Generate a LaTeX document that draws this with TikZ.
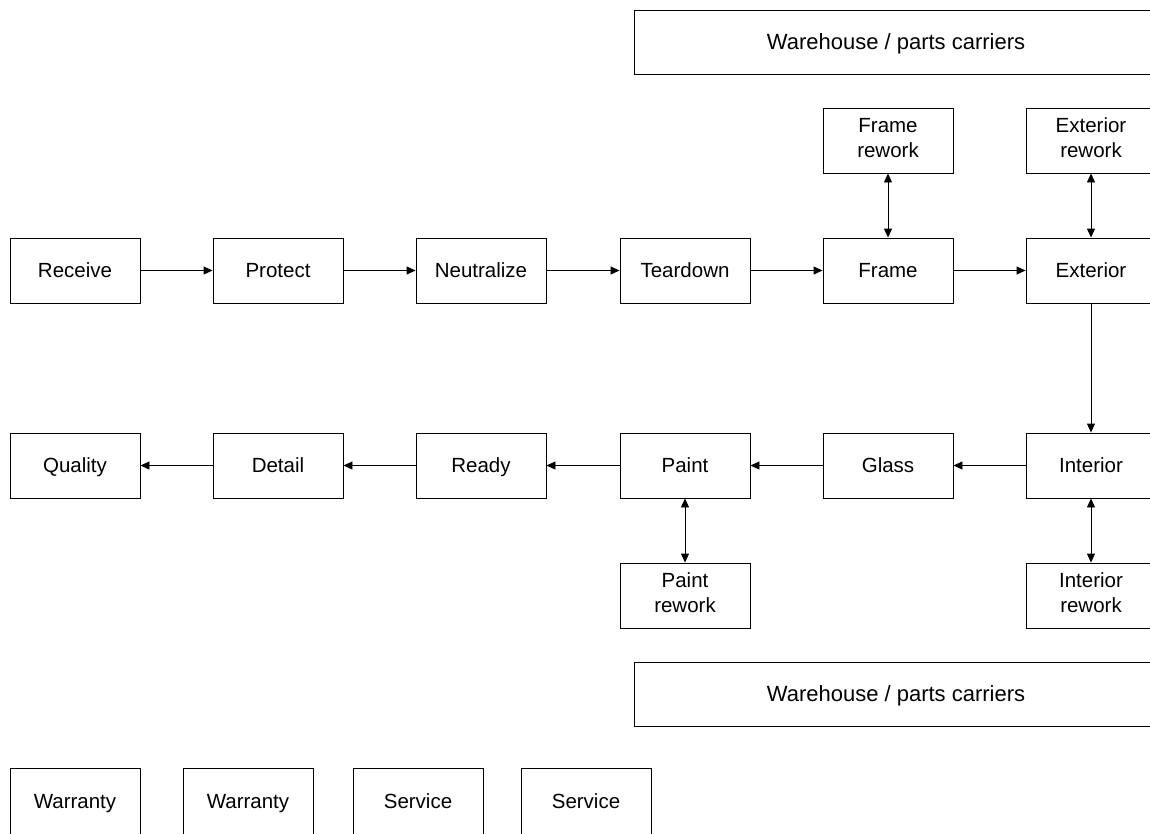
\documentclass[tikz,border=0pt]{standalone}
\usepackage{fontspec}
\setmainfont{Liberation Sans}
\usetikzlibrary{arrows.meta}
\newcommand\boxstrut{\rule[-5pt]{0pt}{24pt}}
\begin{document}
\begin{tikzpicture}[x=1pt,y=-1pt,
  box/.style={draw,line width=0.9pt,minimum width=130pt,minimum height=65pt,inner sep=0pt,align=center,
    font=\fontsize{20.5}{25}\selectfont,execute at begin node=\boxstrut,execute at end node=\boxstrut},
  wide/.style={box,minimum width=524pt,minimum height=64pt,font=\fontsize{22}{26}\selectfont},
  conn/.style={line width=0.9pt,-{Triangle[length=9pt,width=8pt]}},
  bi/.style={line width=0.9pt,{Triangle[length=9pt,width=8pt]}-{Triangle[length=9pt,width=8pt]}}]
\useasboundingbox (0,0) rectangle (1150,833);
\clip (0,0) rectangle (1150,833);
\node[box] (receive) at (75,270.5) {Receive};
\node[box] (protect) at (278,270.5) {Protect};
\node[box] (neutralize) at (481,270.5) {Neutralize};
\node[box] (teardown) at (685,270.5) {Teardown};
\node[box] (frame) at (888,270.5) {Frame};
\node[box] (exterior) at (1091,270.5) {Exterior};
\node[box] (framerw) at (888,140.5) {Frame\\rework};
\node[box] (exteriorrw) at (1091,140.5) {Exterior\\rework};
\node[box] (quality) at (75,465.5) {Quality};
\node[box] (detail) at (278,465.5) {Detail};
\node[box] (ready) at (481,465.5) {Ready};
\node[box] (paint) at (685,465.5) {Paint};
\node[box] (glass) at (888,465.5) {Glass};
\node[box] (interior) at (1091,465.5) {Interior};
\node[box] (paintrw) at (685,595.5) {Paint\\rework};
\node[box] (interiorrw) at (1091,595.5) {Interior\\rework};
\node[wide] (whtop) at (896,42) {Warehouse / parts carriers};
\node[wide] (whbot) at (896,694.5) {Warehouse / parts carriers};
\node[box,minimum height=67pt] (w1) at (75,801.5) {Warranty};
\node[box,minimum height=67pt] (w2) at (248,801.5) {Warranty};
\node[box,minimum height=67pt] (s1) at (418,801.5) {Service};
\node[box,minimum height=67pt] (s2) at (586,801.5) {Service};
\draw[conn] (receive) -- (protect);
\draw[conn] (protect) -- (neutralize);
\draw[conn] (neutralize) -- (teardown);
\draw[conn] (teardown) -- (frame);
\draw[conn] (frame) -- (exterior);
\draw[conn] (exterior) -- (interior);
\draw[conn] (interior) -- (glass);
\draw[conn] (glass) -- (paint);
\draw[conn] (paint) -- (ready);
\draw[conn] (ready) -- (detail);
\draw[conn] (detail) -- (quality);
\draw[bi] (framerw) -- (frame);
\draw[bi] (exteriorrw) -- (exterior);
\draw[bi] (paint) -- (paintrw);
\draw[bi] (interior) -- (interiorrw);
\end{tikzpicture}
\end{document}
